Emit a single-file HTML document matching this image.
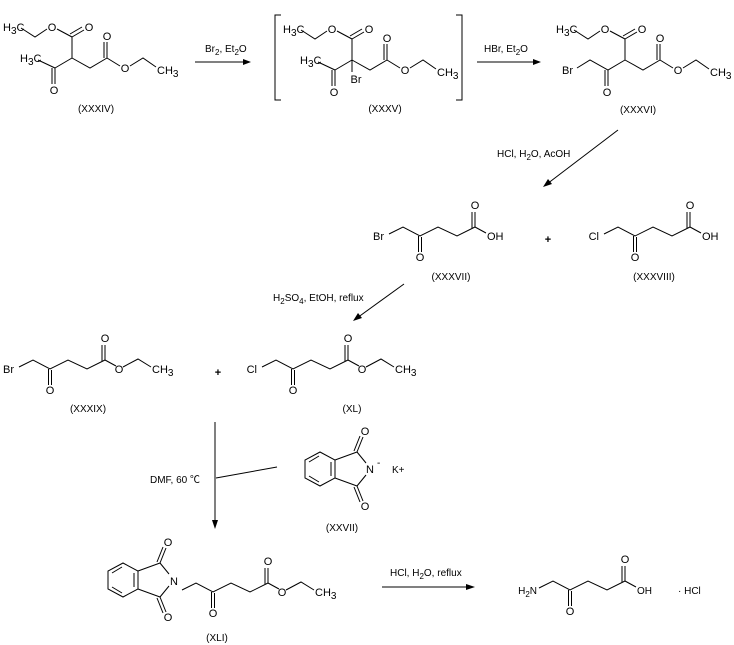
<!DOCTYPE html>
<html><head><meta charset="utf-8"><style>
html,body{margin:0;padding:0;background:#fff;}
svg{display:block;}
text{font-family:"Liberation Sans","Noto Sans CJK SC",sans-serif;font-size:11px;fill:#000;}
.s{font-size:10px;}
</style></head><body>
<svg width="734" height="645" viewBox="0 0 734 645" xmlns="http://www.w3.org/2000/svg">
<defs>
<g id="top" fill="none" stroke="#000" stroke-width="1">
<polyline points="21,28 35,37 47,29"/>
<polyline points="57,29 72,37"/>
<line x1="72" y1="37" x2="84" y2="30"/><line x1="70" y1="34" x2="82" y2="27"/>
<line x1="72" y1="37" x2="72" y2="58"/>
<polyline points="72,58 90,68 107,58"/>
<line x1="107" y1="58" x2="107" y2="42"/><line x1="104" y1="58" x2="104" y2="42"/>
<line x1="107" y1="58" x2="120" y2="66"/>
<polyline points="130,66 143,58 156,67"/>
</g>
<g id="keto" fill="none" stroke="#000" stroke-width="1">
<polyline points="-31,-2 -17,-9 0,0 18,-9 37,0 55,-9 66,-3"/>
<line x1="-1.5" y1="0" x2="-1.5" y2="16"/><line x1="1.5" y1="1" x2="1.5" y2="16"/>
<line x1="55" y1="-9" x2="55" y2="-24"/><line x1="52" y1="-8" x2="52" y2="-24"/>
</g>
<g id="ester" fill="none" stroke="#000" stroke-width="1">
<polyline points="73,-2 88,-10 101,-2"/>
</g>
<g id="phth" fill="none" stroke="#000" stroke-width="1">
<polygon points="0,-17 15,-9 15,9 0,17 -15,9 -15,-9"/>
<line x1="-11" y1="-7" x2="-1" y2="-13"/><line x1="-11" y1="7" x2="-1" y2="13"/><line x1="11" y1="-7" x2="11" y2="7"/>
<line x1="15" y1="-9" x2="37" y2="-17"/><line x1="15" y1="9" x2="37" y2="17"/>
<line x1="37" y1="-17" x2="46" y2="-6"/><line x1="37" y1="17" x2="46" y2="6"/>
<line x1="37" y1="-17" x2="43" y2="-32"/><line x1="34" y1="-18" x2="40" y2="-33"/>
<line x1="37" y1="17" x2="43" y2="32"/><line x1="34" y1="18" x2="40" y2="33"/>
</g>
</defs>

<!-- XXXIV -->
<use href="#top"/>
<g fill="none" stroke="#000"><line x1="38" y1="60" x2="55" y2="68"/><line x1="72" y1="58" x2="55" y2="68"/>
<line x1="55" y1="68" x2="55" y2="84"/><line x1="52" y1="68" x2="52" y2="84"/></g>
<text x="3" y="31">H<tspan class="s" dy="3">3</tspan><tspan dy="-3">C</tspan></text>
<text x="52" y="31" text-anchor="middle">O</text><text x="89" y="31" text-anchor="middle">O</text>
<text x="20" y="62">H<tspan class="s" dy="3">3</tspan><tspan dy="-3">C</tspan></text>
<text x="54" y="94" text-anchor="middle">O</text><text x="107" y="40" text-anchor="middle">O</text>
<text x="125" y="72" text-anchor="middle">O</text>
<text x="157" y="74">CH<tspan class="s" dy="3">3</tspan></text>
<text x="96" y="112" text-anchor="middle" class="s">(XXXIV)</text>

<!-- arrow 1 -->
<line x1="195" y1="62" x2="246" y2="62" stroke="#000"/><polygon points="251,62 243,59 243,65"/>
<text x="205" y="52" class="s">Br<tspan dy="3" font-size="8">2</tspan><tspan dy="-3">, Et</tspan><tspan dy="3" font-size="8">2</tspan><tspan dy="-3">O</tspan></text>

<!-- XXXV -->
<g fill="none" stroke="#000"><polyline points="281,15 275,15 275,100 281,100"/><polyline points="456,15 462,15 462,100 456,100"/></g>
<g transform="translate(280,2)">
<use href="#top"/>
<g fill="none" stroke="#000"><line x1="38" y1="60" x2="55" y2="68"/><line x1="72" y1="58" x2="55" y2="68"/>
<line x1="55" y1="68" x2="55" y2="84"/><line x1="52" y1="68" x2="52" y2="84"/><line x1="72" y1="58" x2="72" y2="70"/></g>
<text x="3" y="31">H<tspan class="s" dy="3">3</tspan><tspan dy="-3">C</tspan></text>
<text x="52" y="31" text-anchor="middle">O</text><text x="89" y="31" text-anchor="middle">O</text>
<text x="20" y="62">H<tspan class="s" dy="3">3</tspan><tspan dy="-3">C</tspan></text>
<text x="54" y="94" text-anchor="middle">O</text><text x="107" y="40" text-anchor="middle">O</text>
<text x="125" y="72" text-anchor="middle">O</text>
<text x="157" y="74">CH<tspan class="s" dy="3">3</tspan></text>
<text x="76" y="81" text-anchor="middle">Br</text>
</g>
<text x="385" y="112" text-anchor="middle" class="s">(XXXV)</text>

<!-- arrow 2 -->
<line x1="477" y1="62" x2="536" y2="62" stroke="#000"/><polygon points="541,62 533,59 533,65"/>
<text x="484" y="52" class="s">HBr, Et<tspan dy="3" font-size="8">2</tspan><tspan dy="-3">O</tspan></text>

<!-- XXXVI -->
<g transform="translate(553,2)">
<use href="#top"/>
<g fill="none" stroke="#000"><polyline points="24,66 37,58 55,68 72,58"/>
<line x1="55" y1="68" x2="55" y2="84"/><line x1="52" y1="68" x2="52" y2="84"/></g>
<text x="3" y="31">H<tspan class="s" dy="3">3</tspan><tspan dy="-3">C</tspan></text>
<text x="52" y="31" text-anchor="middle">O</text><text x="89" y="31" text-anchor="middle">O</text>
<text x="9" y="72">Br</text>
<text x="54" y="94" text-anchor="middle">O</text><text x="107" y="40" text-anchor="middle">O</text>
<text x="125" y="72" text-anchor="middle">O</text>
<text x="157" y="74">CH<tspan class="s" dy="3">3</tspan></text>
</g>
<text x="638" y="113" text-anchor="middle" class="s">(XXXVI)</text>

<!-- arrow 3 -->
<line x1="618" y1="130" x2="547" y2="184" stroke="#000"/><polygon points="543,187 548,179 552,184"/>
<text x="497" y="157" class="s">HCl, H<tspan dy="3" font-size="8">2</tspan><tspan dy="-3">O, AcOH</tspan></text>

<!-- XXXVII -->
<g transform="translate(420,236)"><use href="#keto"/>
<text x="-36" y="4" text-anchor="end">Br</text><text x="0" y="25" text-anchor="middle">O</text>
<text x="55" y="-27" text-anchor="middle">O</text><text x="67" y="4">OH</text></g>
<text x="451" y="280" text-anchor="middle" class="s">(XXXVII)</text>
<text x="548" y="243" text-anchor="middle" font-size="15" font-weight="bold">+</text>
<!-- XXXVIII -->
<g transform="translate(635,236)"><use href="#keto"/>
<text x="-36" y="4" text-anchor="end">Cl</text><text x="0" y="25" text-anchor="middle">O</text>
<text x="55" y="-27" text-anchor="middle">O</text><text x="67" y="4">OH</text></g>
<text x="654" y="280" text-anchor="middle" class="s">(XXXVIII)</text>

<!-- arrow 4 -->
<line x1="404" y1="284" x2="357" y2="318" stroke="#000"/><polygon points="353,321 358,313 362,318"/>
<text x="273" y="301" class="s">H<tspan dy="3" font-size="8">2</tspan><tspan dy="-3">SO</tspan><tspan dy="3" font-size="8">4</tspan><tspan dy="-3">, EtOH, reflux</tspan></text>

<!-- XXXIX -->
<g transform="translate(50,369)"><use href="#keto"/><use href="#ester"/>
<text x="-36" y="4" text-anchor="end">Br</text><text x="0" y="25" text-anchor="middle">O</text>
<text x="55" y="-27" text-anchor="middle">O</text><text x="69" y="4" text-anchor="middle">O</text>
<text x="102" y="4">CH<tspan class="s" dy="3">3</tspan></text></g>
<text x="88" y="412" text-anchor="middle" class="s">(XXXIX)</text>
<text x="218" y="376" text-anchor="middle" font-size="15" font-weight="bold">+</text>
<!-- XL -->
<g transform="translate(293,369)"><use href="#keto"/><use href="#ester"/>
<text x="-36" y="4" text-anchor="end">Cl</text><text x="0" y="25" text-anchor="middle">O</text>
<text x="55" y="-27" text-anchor="middle">O</text><text x="69" y="4" text-anchor="middle">O</text>
<text x="102" y="4">CH<tspan class="s" dy="3">3</tspan></text></g>
<text x="352" y="412" text-anchor="middle" class="s">(XL)</text>

<!-- vertical arrow -->
<line x1="215" y1="422" x2="215" y2="522" stroke="#000"/><polygon points="215,529 212,520 218,520"/>
<line x1="216" y1="478" x2="277" y2="467" stroke="#000"/>
<text x="150" y="483" class="s">DMF, 60 ℃</text>

<!-- XXVII -->
<g transform="translate(320,469)"><use href="#phth"/>
<text x="50" y="4" text-anchor="middle">N</text><text x="45" y="-34" text-anchor="middle">O</text><text x="45" y="41" text-anchor="middle">O</text>
<text x="57" y="-3" class="s">-</text><text x="72" y="4" class="s">K+</text></g>
<text x="342" y="531" text-anchor="middle" class="s">(XXVII)</text>

<!-- XLI -->
<g transform="translate(123,580)"><use href="#phth"/>
<text x="51" y="5" text-anchor="middle">N</text><text x="45" y="-34" text-anchor="middle">O</text><text x="45" y="41" text-anchor="middle">O</text></g>
<g transform="translate(213,592)"><use href="#keto"/><use href="#ester"/>
<text x="0" y="25" text-anchor="middle">O</text>
<text x="55" y="-27" text-anchor="middle">O</text><text x="69" y="4" text-anchor="middle">O</text>
<text x="102" y="4">CH<tspan class="s" dy="3">3</tspan></text></g>
<text x="217" y="641" text-anchor="middle" class="s">(XLI)</text>

<!-- final arrow -->
<line x1="382" y1="587" x2="469" y2="587" stroke="#000"/><polygon points="475,587 466,584 466,590"/>
<text x="390" y="576" class="s">HCl, H<tspan dy="3" font-size="8">2</tspan><tspan dy="-3">O, reflux</tspan></text>

<!-- final product -->
<g transform="translate(570,590)"><use href="#keto"/>
<text x="-33" y="4" text-anchor="end" class="s">H<tspan dy="3" font-size="8">2</tspan><tspan dy="-3">N</tspan></text>
<text x="0" y="25" text-anchor="middle">O</text>
<text x="55" y="-27" text-anchor="middle">O</text><text x="67" y="4" class="s">OH</text>
<text x="108" y="4" class="s">· HCl</text></g>
</svg>
</body></html>
